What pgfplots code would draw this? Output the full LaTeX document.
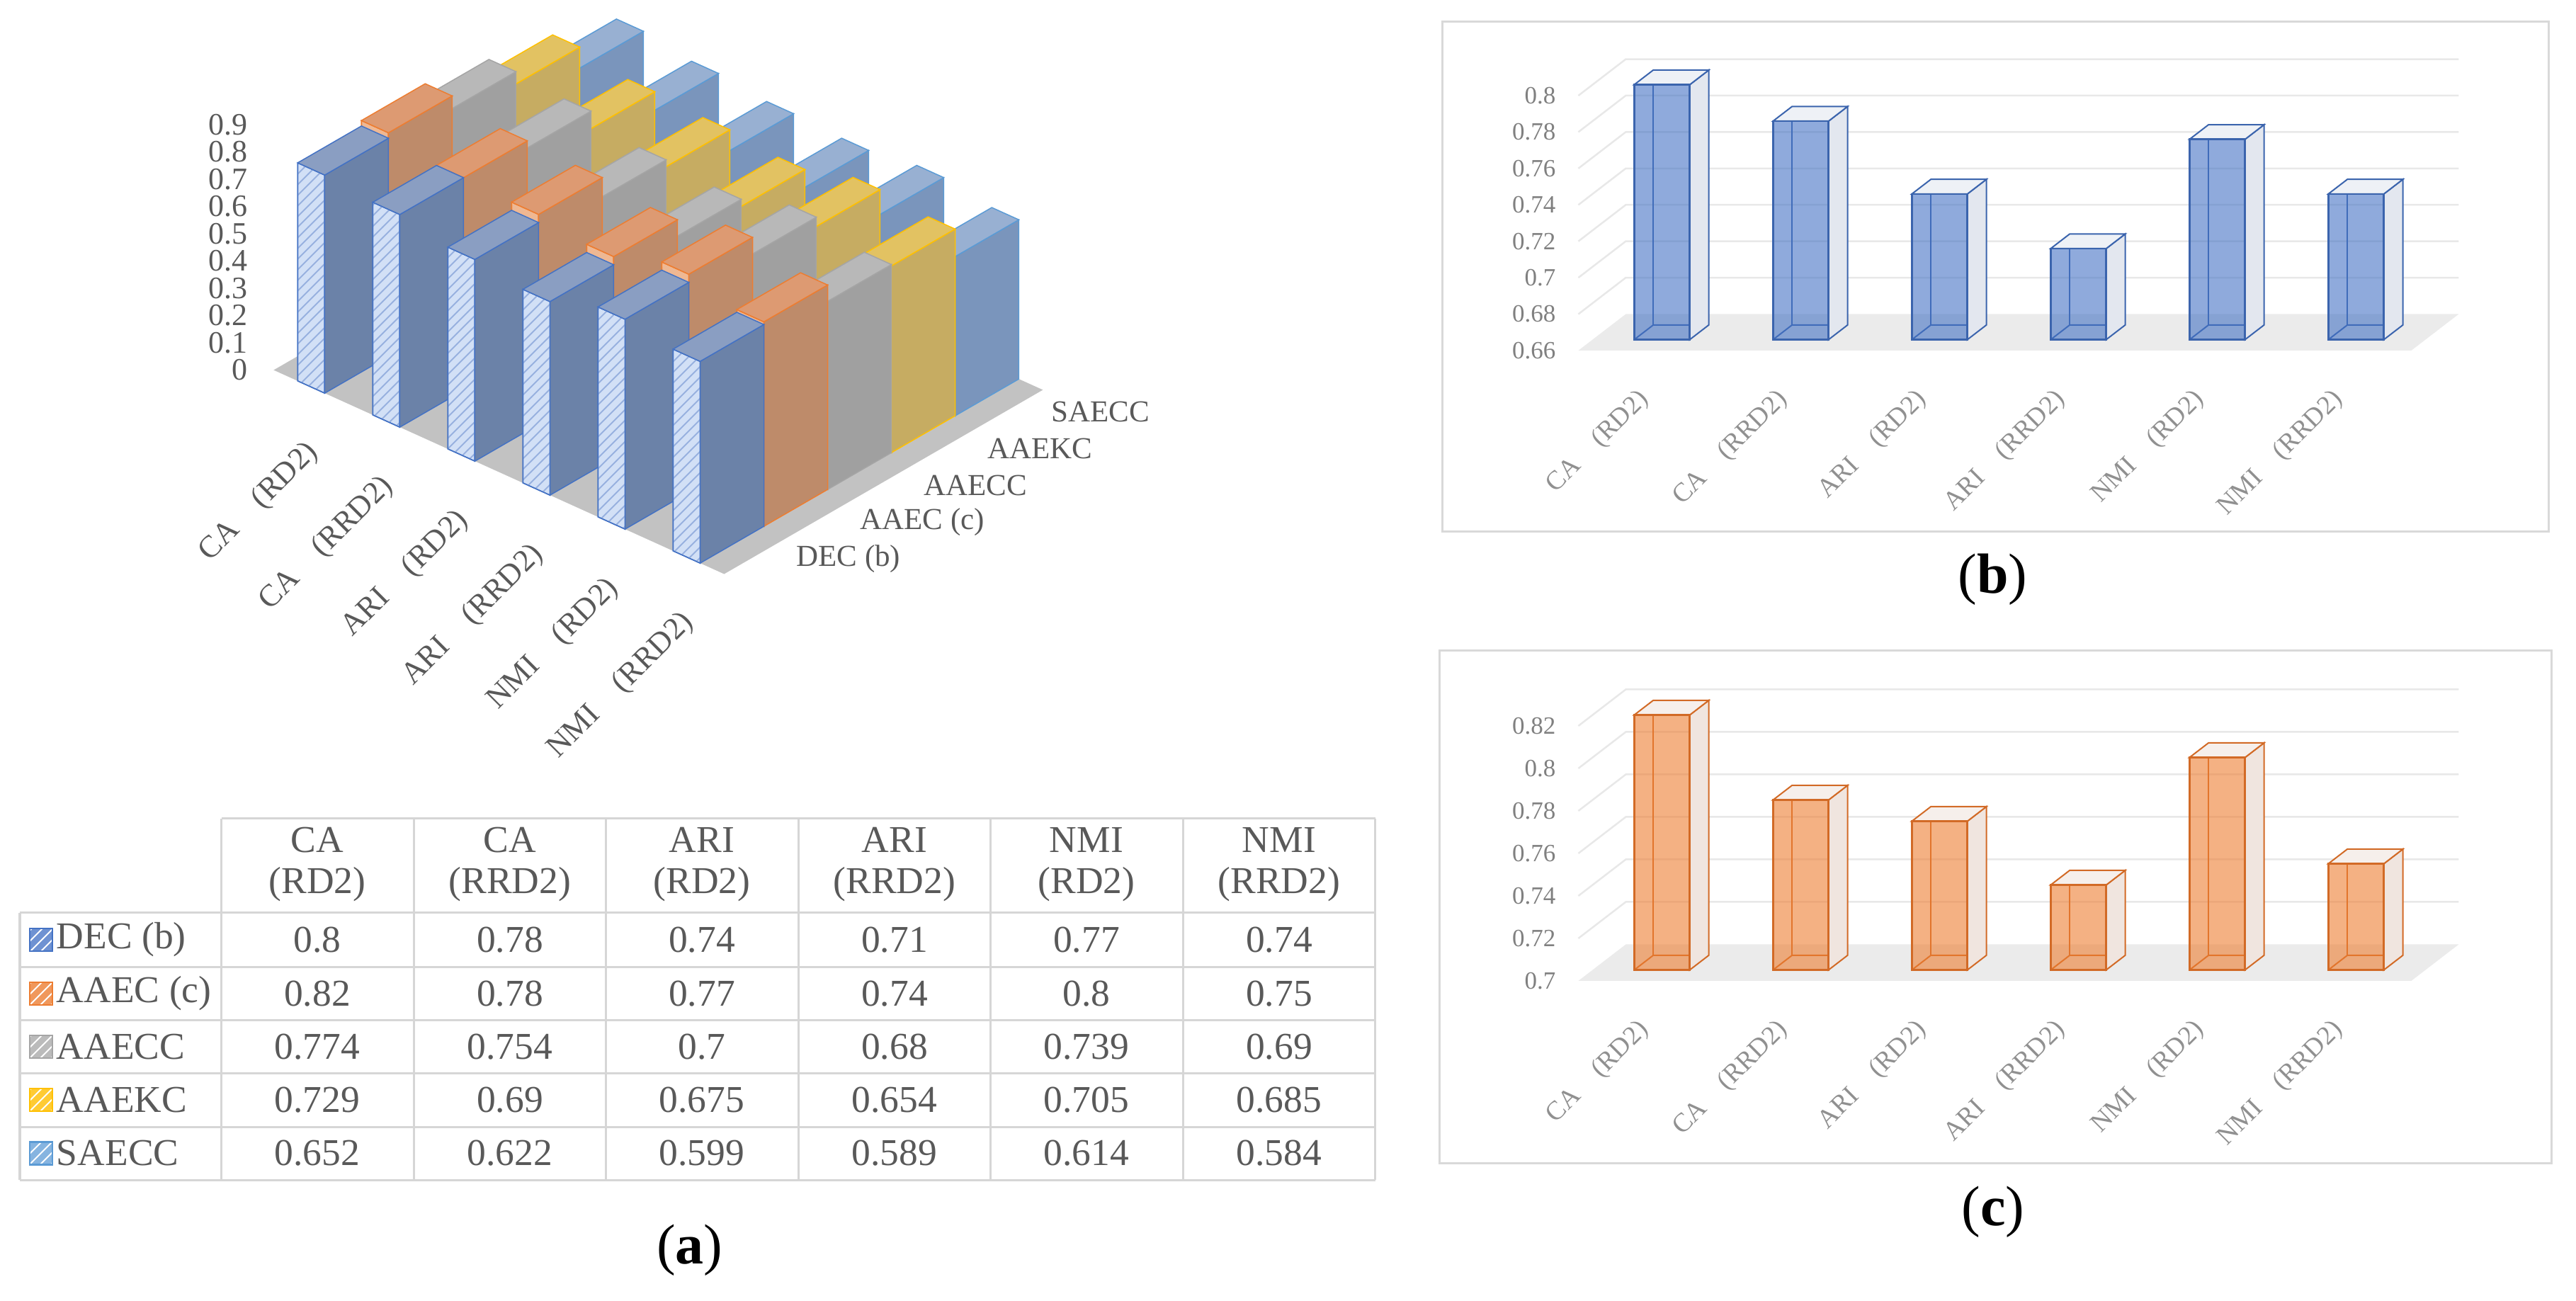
\documentclass[border=0pt]{standalone}
\usepackage{pgfplots}
\pgfplotsset{compat=1.18}
\usetikzlibrary{patterns}
\usepackage{fontspec}
\setmainfont{Liberation Serif}

% panel (a) colours
\definecolor{DECd}{HTML}{6B82A8}\definecolor{DECl}{HTML}{D2E0F6}\definecolor{DECt}{HTML}{8A9EC2}\definecolor{DECe}{HTML}{4472C4}
\definecolor{AAECd}{HTML}{BE8B6A}\definecolor{AAECl}{HTML}{EDB894}\definecolor{AAECt}{HTML}{DD9A72}\definecolor{AAECe}{HTML}{ED7D31}
\definecolor{AAECCd}{HTML}{A0A0A0}\definecolor{AAECCl}{HTML}{CDCDCD}\definecolor{AAECCt}{HTML}{B8B8B8}\definecolor{AAECCe}{HTML}{A5A5A5}
\definecolor{AAEKCd}{HTML}{C6AC62}\definecolor{AAEKCl}{HTML}{EDD38A}\definecolor{AAEKCt}{HTML}{E2C262}\definecolor{AAEKCe}{HTML}{FFC000}
\definecolor{SAECCd}{HTML}{7A95BC}\definecolor{SAECCl}{HTML}{BCD0EA}\definecolor{SAECCt}{HTML}{98B0D2}\definecolor{SAECCe}{HTML}{5B9BD5}
\definecolor{floorA}{HTML}{C2C2C2}
% icons
\definecolor{DECi}{HTML}{6F92D2}\definecolor{AAECi}{HTML}{F0985C}\definecolor{AAECCi}{HTML}{BBBBBB}
\definecolor{AAEKCi}{HTML}{FFCB33}\definecolor{SAECCi}{HTML}{86B4E0}
% panels (b),(c)
\definecolor{Be}{HTML}{3B64AD}\definecolor{Bf}{HTML}{4472C4}\definecolor{Bs}{HTML}{E3E7EF}\definecolor{Bt}{HTML}{EEF1F6}
\definecolor{Ce}{HTML}{D26A26}\definecolor{Cf}{HTML}{ED7D31}\definecolor{Cs}{HTML}{F0E5DF}\definecolor{Ct}{HTML}{F6EFEB}
\definecolor{floorB}{HTML}{EBEBEB}\definecolor{gridc}{HTML}{E8E8E8}
\definecolor{tickc}{HTML}{808080}\definecolor{labc}{HTML}{909090}
\definecolor{txt}{HTML}{595959}\definecolor{tabline}{HTML}{D6D6D6}\definecolor{boxc}{HTML}{D9D9D9}

% one bar of panel (a): u, v, value, series
\newcommand{\abar}[4]{%
  \pgfmathsetmacro\ua{#1-0.18}\pgfmathsetmacro\ub{#1+0.18}%
  \pgfmathsetmacro\va{#2-0.5}\pgfmathsetmacro\vb{#2+0.5}%
  \edef\tmp{%
    \noexpand\addplot3[fill=#4l,draw=#4e,line width=0.3pt,postaction={pattern=north east lines,pattern color=#4e!55}] coordinates {(\ua,\va,0) (\ub,\va,0) (\ub,\va,#3) (\ua,\va,#3)} -- cycle;
    \noexpand\addplot3[fill=#4d,draw=#4e,line width=0.3pt] coordinates {(\ub,\va,0) (\ub,\vb,0) (\ub,\vb,#3) (\ub,\va,#3)} -- cycle;
    \noexpand\addplot3[fill=#4t,draw=#4e,line width=0.3pt] coordinates {(\ua,\va,#3) (\ub,\va,#3) (\ub,\vb,#3) (\ua,\vb,#3)} -- cycle;
  }\tmp}

% one glass bar of panels (b),(c): x, value, base, prefix
\newcommand{\gbar}[4]{%
  \pgfmathsetmacro\xa{#1-0.2}\pgfmathsetmacro\xb{#1+0.2}%
  \edef\tmp{%
    \noexpand\addplot3[draw=#4e,line width=0.4pt] coordinates {(\xa,0.3,#3) (\xa,0.7,#3) (\xb,0.7,#3)};
    \noexpand\addplot3[draw=#4e,line width=0.4pt] coordinates {(\xa,0.7,#3) (\xa,0.7,#2)};
    \noexpand\addplot3[fill=#4s,draw=#4e,line width=0.4pt] coordinates {(\xb,0.3,#3) (\xb,0.7,#3) (\xb,0.7,#2) (\xb,0.3,#2)} -- cycle;
    \noexpand\addplot3[fill=#4t,draw=#4e,line width=0.4pt] coordinates {(\xa,0.3,#2) (\xb,0.3,#2) (\xb,0.7,#2) (\xa,0.7,#2)} -- cycle;
    \noexpand\addplot3[fill=#4f,fill opacity=0.6,draw=#4e,line width=0.5pt] coordinates {(\xa,0.3,#3) (\xb,0.3,#3) (\xb,0.3,#2) (\xa,0.3,#2)} -- cycle;
  }\tmp}

% table row: y, prefix, name, six values
\newcommand{\trow}[9]{%
  \fill[#2i] (42,#1-16) rectangle (74,#1+16);
  \fill[pattern=north east lines,pattern color=white] (42,#1-16) rectangle (74,#1+16);
  \draw[#2e,line width=0.5pt] (42,#1-16) rectangle (74,#1+16);
  \node[anchor=west,inner sep=0pt] at (79,#1) {#3};
  \node at (448,#1) {#4};\node at (720,#1) {#5};\node at (991,#1) {#6};
  \node at (1263,#1) {#7};\node at (1534,#1) {#8};\node at (1806,#1) {#9};}

\tikzset{
  catA/.style={shift={(0.8pt,-17pt)},rotate=45,anchor=east,inner sep=0pt,font=\fontsize{8.8}{10}\selectfont,text=txt},
  serA/.style={anchor=west,inner sep=0pt,xshift=11.2pt,yshift=-1pt,font=\fontsize{8.6}{10}\selectfont,text=txt},
  catB/.style={shift={(-0.8pt,-12.6pt)},rotate=45,anchor=east,inner sep=0pt,font=\fontsize{7.5}{9}\selectfont,text=labc},
  tickB/.style={anchor=east,inner sep=0pt,xshift=-6.2pt,font=\fontsize{7}{8}\selectfont,text=tickc}}

\begin{document}
\begin{tikzpicture}
\useasboundingbox (0,0) rectangle (727.4pt,-367.2pt);

% ---------- table, boxes, captions (pixel grid) ----------
\begin{scope}[x=0.2pt,y=-0.2pt,font=\fontsize{10.7}{12.8}\selectfont,text=txt]
  \draw[tabline,line width=0.6pt] (312.5,1155.6) -- (1941.5,1155.6);
  \foreach \yy in {1288.7,1365,1440.6,1515,1591,1666}
    \draw[tabline,line width=0.6pt] (28,\yy) -- (1941.5,\yy);
  \draw[tabline,line width=0.6pt] (28,1288.7) -- (28,1666);
  \foreach \xx in {312.5,584,855.5,1127,1398.5,1670,1941.5}
    \draw[tabline,line width=0.6pt] (\xx,1155.6) -- (\xx,1666);
  \node at (448,1186) {CA};\node at (720,1186) {CA};\node at (991,1186) {ARI};
  \node at (1263,1186) {ARI};\node at (1534,1186) {NMI};\node at (1806,1186) {NMI};
  \node at (448,1249) {(RD2)};\node at (720,1249) {(RRD2)};\node at (991,1249) {(RD2)};
  \node at (1263,1249) {(RRD2)};\node at (1534,1249) {(RD2)};\node at (1806,1249) {(RRD2)};
  \trow{1327}{DEC}{DEC (b)}{0.8}{0.78}{0.74}{0.71}{0.77}{0.74}
  \trow{1403}{AAEC}{AAEC (c)}{0.82}{0.78}{0.77}{0.74}{0.8}{0.75}
  \trow{1478}{AAECC}{AAECC}{0.774}{0.754}{0.7}{0.68}{0.739}{0.69}
  \trow{1553}{AAEKC}{AAEKC}{0.729}{0.69}{0.675}{0.654}{0.705}{0.685}
  \trow{1628.5}{SAECC}{SAECC}{0.652}{0.622}{0.599}{0.589}{0.614}{0.584}

  \draw[boxc,line width=0.6pt] (2036,30) rectangle (3598,750);
  \draw[boxc,line width=0.6pt] (2032,918) rectangle (3602,1642);

  \node[text=black] at (974,1765) {\fontsize{16}{19}\selectfont(\textbf{a})};
  \node[text=black] at (2813.5,818) {\fontsize{16}{19}\selectfont(\textbf{b})};
  \node[text=black] at (2814,1711.5) {\fontsize{16}{19}\selectfont(\textbf{c})};
\end{scope}

% ---------- panel (a): 3D columns ----------
\begin{axis}[hide axis, clip=false, anchor=origin, at={(96.88pt,-104.1pt)},
  x={(21.2pt,-9.6pt)}, y={(18pt,10.4pt)}, z={(0pt,77pt)},
  xtick=\empty, ytick=\empty, ztick=\empty,
  xmin=-0.5, xmax=5.5, ymin=-0.5, ymax=4.5, zmin=0, zmax=0.9]
  \addplot3[fill=floorA,draw=none] coordinates {(-0.5,-0.5,0) (5.5,-0.5,0) (5.5,4.5,0) (-0.5,4.5,0)} -- cycle;
  % CA (RD2)
  \abar{0}{4}{0.652}{SAECC}\abar{0}{3}{0.729}{AAEKC}\abar{0}{2}{0.774}{AAECC}\abar{0}{1}{0.82}{AAEC}\abar{0}{0}{0.8}{DEC}
  % CA (RRD2)
  \abar{1}{4}{0.622}{SAECC}\abar{1}{3}{0.69}{AAEKC}\abar{1}{2}{0.754}{AAECC}\abar{1}{1}{0.78}{AAEC}\abar{1}{0}{0.78}{DEC}
  % ARI (RD2)
  \abar{2}{4}{0.599}{SAECC}\abar{2}{3}{0.675}{AAEKC}\abar{2}{2}{0.7}{AAECC}\abar{2}{1}{0.77}{AAEC}\abar{2}{0}{0.74}{DEC}
  % ARI (RRD2)
  \abar{3}{4}{0.589}{SAECC}\abar{3}{3}{0.654}{AAEKC}\abar{3}{2}{0.68}{AAECC}\abar{3}{1}{0.74}{AAEC}\abar{3}{0}{0.71}{DEC}
  % NMI (RD2)
  \abar{4}{4}{0.614}{SAECC}\abar{4}{3}{0.705}{AAEKC}\abar{4}{2}{0.739}{AAECC}\abar{4}{1}{0.8}{AAEC}\abar{4}{0}{0.77}{DEC}
  % NMI (RRD2)
  \abar{5}{4}{0.584}{SAECC}\abar{5}{3}{0.685}{AAEKC}\abar{5}{2}{0.69}{AAECC}\abar{5}{1}{0.75}{AAEC}\abar{5}{0}{0.74}{DEC}
  \pgfplotsinvokeforeach{0,0.1,0.2,0.3,0.4,0.5,0.6,0.7,0.8,0.9}{%
    \node[anchor=east,inner sep=0pt,xshift=-7.2pt,font=\fontsize{8.8}{10}\selectfont,text=txt] at (axis cs:-0.5,-0.5,#1) {#1};}
  \node[catA] at (axis cs:0,-0.5,0) {CA\hspace{1em}(RD2)};
  \node[catA] at (axis cs:1,-0.5,0) {CA\hspace{1em}(RRD2)};
  \node[catA] at (axis cs:2,-0.5,0) {ARI\hspace{1em}(RD2)};
  \node[catA] at (axis cs:3,-0.5,0) {ARI\hspace{1em}(RRD2)};
  \node[catA] at (axis cs:4,-0.5,0) {NMI\hspace{1em}(RD2)};
  \node[catA] at (axis cs:5,-0.5,0) {NMI\hspace{1em}(RRD2)};
  \node[serA] at (axis cs:5.5,0,0) {DEC (b)};
  \node[serA] at (axis cs:5.5,1,0) {AAEC (c)};
  \node[serA] at (axis cs:5.5,2,0) {AAECC};
  \node[serA] at (axis cs:5.5,3,0) {AAEKC};
  \node[serA] at (axis cs:5.5,4,0) {SAECC};
\end{axis}

% ---------- panel (b): DEC ----------
\begin{axis}[hide axis, clip=false, anchor=origin, at={(465.28pt,-438.37pt)},
  x={(39.2pt,0pt)}, y={(13.4pt,10.3pt)}, z={(0pt,514.2pt)},
  xtick=\empty, ytick=\empty, ztick=\empty,
  xmin=-0.5, xmax=5.5, ymin=0, ymax=1, zmin=0, zmax=0.8]
  \addplot3[fill=floorB,draw=none] coordinates {(-0.5,0,0.66) (5.5,0,0.66) (5.5,1,0.66) (-0.5,1,0.66)} -- cycle;
  \pgfplotsinvokeforeach{0.68,0.7,0.72,0.74,0.76,0.78,0.8}{%
    \addplot3[draw=gridc,line width=0.5pt] coordinates {(-0.5,0,#1) (-0.5,1,#1) (5.5,1,#1)};}
  \gbar{0}{0.8}{0.66}{B}\gbar{1}{0.78}{0.66}{B}\gbar{2}{0.74}{0.66}{B}
  \gbar{3}{0.71}{0.66}{B}\gbar{4}{0.77}{0.66}{B}\gbar{5}{0.74}{0.66}{B}
  \pgfplotsinvokeforeach{0.66,0.68,0.7,0.72,0.74,0.76,0.78,0.8}{%
    \node[tickB] at (axis cs:-0.5,0,#1) {#1};}
  \node[catB] at (axis cs:0,0,0.66) {CA\hspace{1em}(RD2)};
  \node[catB] at (axis cs:1,0,0.66) {CA\hspace{1em}(RRD2)};
  \node[catB] at (axis cs:2,0,0.66) {ARI\hspace{1em}(RD2)};
  \node[catB] at (axis cs:3,0,0.66) {ARI\hspace{1em}(RRD2)};
  \node[catB] at (axis cs:4,0,0.66) {NMI\hspace{1em}(RD2)};
  \node[catB] at (axis cs:5,0,0.66) {NMI\hspace{1em}(RRD2)};
\end{axis}

% ---------- panel (c): AAEC ----------
\begin{axis}[hide axis, clip=false, anchor=origin, at={(465.28pt,-697pt)},
  x={(39.2pt,0pt)}, y={(13.4pt,10.3pt)}, z={(0pt,600pt)},
  xtick=\empty, ytick=\empty, ztick=\empty,
  xmin=-0.5, xmax=5.5, ymin=0, ymax=1, zmin=0, zmax=0.82]
  \addplot3[fill=floorB,draw=none] coordinates {(-0.5,0,0.7) (5.5,0,0.7) (5.5,1,0.7) (-0.5,1,0.7)} -- cycle;
  \pgfplotsinvokeforeach{0.72,0.74,0.76,0.78,0.8,0.82}{%
    \addplot3[draw=gridc,line width=0.5pt] coordinates {(-0.5,0,#1) (-0.5,1,#1) (5.5,1,#1)};}
  \gbar{0}{0.82}{0.7}{C}\gbar{1}{0.78}{0.7}{C}\gbar{2}{0.77}{0.7}{C}
  \gbar{3}{0.74}{0.7}{C}\gbar{4}{0.8}{0.7}{C}\gbar{5}{0.75}{0.7}{C}
  \pgfplotsinvokeforeach{0.7,0.72,0.74,0.76,0.78,0.8,0.82}{%
    \node[tickB] at (axis cs:-0.5,0,#1) {#1};}
  \node[catB] at (axis cs:0,0,0.7) {CA\hspace{1em}(RD2)};
  \node[catB] at (axis cs:1,0,0.7) {CA\hspace{1em}(RRD2)};
  \node[catB] at (axis cs:2,0,0.7) {ARI\hspace{1em}(RD2)};
  \node[catB] at (axis cs:3,0,0.7) {ARI\hspace{1em}(RRD2)};
  \node[catB] at (axis cs:4,0,0.7) {NMI\hspace{1em}(RD2)};
  \node[catB] at (axis cs:5,0,0.7) {NMI\hspace{1em}(RRD2)};
\end{axis}
\end{tikzpicture}
\end{document}
